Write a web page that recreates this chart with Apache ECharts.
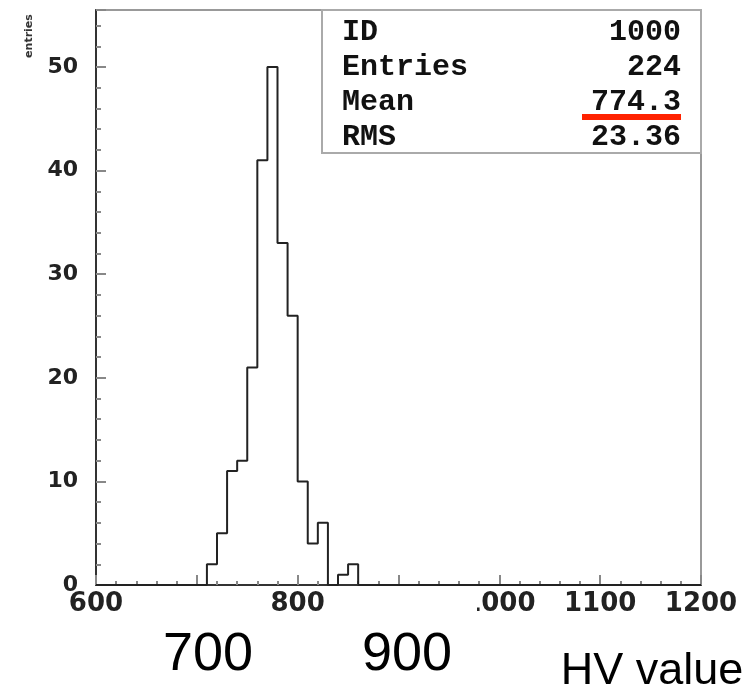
<!DOCTYPE html>
<html>
<head>
<meta charset="utf-8">
<script src="https://cdn.jsdelivr.net/npm/echarts@6/dist/echarts.min.js"></script>
<style>
	html, body { margin: 0; padding: 0; background: #fff; }
	#chart { width: 755px; height: 693px; }
</style>
</head>
<body>
<div id="chart"></div>
<script>
// Histogram bins (left edge, width 10) and their counts
var binLow = [700, 710, 720, 730, 740, 750, 760, 770, 780, 790, 800, 810, 820, 830, 840, 850];
var counts = [0, 2, 5, 11, 12, 21, 41, 50, 33, 26, 10, 4, 6, 0, 1, 2];
var binWidth = 10;

// Stats box
var statNames = ['ID', 'Entries', 'Mean', 'RMS'];
var statValues = ['1000', '224', '774.3', '23.36'];

// Hand-written labels pasted under the axis
var handLabels = ['700', '900'];
var handLabelX = [208, 407];
var xTitle = 'HV value';
var yTitle = 'entries';

var chart = echarts.init(document.getElementById('chart'));

// histogram outline, drawn along zero over the full range like ROOT does
var histData = [[600, 0]];
for (var i = 0; i < binLow.length; i++) {
	histData.push([binLow[i], counts[i]]);
}
histData.push([binLow[binLow.length - 1] + binWidth, 0]);
histData.push([1200, 0]);

var tickFont = 'DejaVu Sans';
var statFont = 'Liberation Mono';

var graphics = [];

// white patches covering the original 700 / 900 tick labels
graphics.push({ type: 'rect', z: 100, shape: { x: 140, y: 588, width: 130, height: 40 }, style: { fill: '#fff' } });
graphics.push({ type: 'rect', z: 100, shape: { x: 343, y: 588, width: 134, height: 40 }, style: { fill: '#fff' } });

// stats box
graphics.push({
	type: 'rect', z: 90,
	shape: { x: 322, y: 10, width: 379, height: 143 },
	style: { fill: '#fff', stroke: '#aaa', lineWidth: 2 }
});
statNames.forEach(function (name, k) {
	var y = 32 + k * 35.3;
	graphics.push({
		type: 'text', z: 91, x: 342, y: y,
		style: { text: name, font: 'bold 30px "' + statFont + '"', fill: '#111', textVerticalAlign: 'middle', verticalAlign: 'middle' }
	});
	graphics.push({
		type: 'text', z: 91, x: 681, y: y,
		style: { text: statValues[k], font: 'bold 30px "' + statFont + '"', fill: '#111', align: 'right', textAlign: 'right', verticalAlign: 'middle', textVerticalAlign: 'middle' }
	});
});
// red underline under the mean
graphics.push({ type: 'rect', z: 92, shape: { x: 582, y: 114, width: 99, height: 6 }, style: { fill: '#ff2200' } });

// rotated y title
graphics.push({
	type: 'text', z: 91, x: 29, y: 36, rotation: Math.PI / 2,
	style: { text: yTitle, font: 'bold 11px "' + tickFont + '"', fill: '#333', align: 'center', textAlign: 'center', verticalAlign: 'middle', textVerticalAlign: 'middle' }
});

// big pasted labels
handLabels.forEach(function (t, k) {
	graphics.push({
		type: 'text', z: 101, x: handLabelX[k], y: 655,
		style: { text: t, font: '54px "Liberation Sans"', fill: '#000', align: 'center', textAlign: 'center', verticalAlign: 'middle', textVerticalAlign: 'middle' }
	});
});
graphics.push({
	type: 'text', z: 101, x: 652, y: 672,
	style: { text: xTitle, font: '45px "Liberation Sans"', fill: '#000', align: 'center', textAlign: 'center', verticalAlign: 'middle', textVerticalAlign: 'middle' }
});

var option = {
	animation: false,
	backgroundColor: '#fff',
	grid: {
		left: 96, right: 54, top: 10, bottom: 108,
		show: true, borderColor: '#999', borderWidth: 2
	},
	xAxis: {
		type: 'value',
		min: 600, max: 1200, interval: 100,
		axisLine: { lineStyle: { color: '#333', width: 2 } },
		axisTick: { inside: true, length: 10, lineStyle: { color: '#888', width: 2 } },
		minorTick: { show: true, splitNumber: 5, length: 4, lineStyle: { color: '#888', width: 2 } },
		splitLine: { show: false },
		axisLabel: {
			margin: 6, color: '#222', fontFamily: tickFont, fontWeight: 'bold', fontSize: 26,
			formatter: function (v) { return String(v); }
		}
	},
	yAxis: {
		type: 'value',
		min: 0, max: 55.5, interval: 10,
		axisLine: { show: true, lineStyle: { color: '#333', width: 2 } },
		axisTick: { inside: true, length: 10, lineStyle: { color: '#888', width: 2 } },
		minorTick: { show: true, splitNumber: 5, length: 5, lineStyle: { color: '#888', width: 2 } },
		splitLine: { show: false },
		axisLabel: {
			margin: 18, color: '#222', fontFamily: tickFont, fontWeight: 'bold', fontSize: 22,
			showMaxLabel: false,
			formatter: function (v) { return v % 10 === 0 ? String(v) : ''; }
		}
	},
	series: [{
		type: 'line',
		step: 'end',
		data: histData,
		symbol: 'none',
		lineStyle: { color: '#222', width: 2 },
		z: 5
	}],
	graphic: graphics
};

chart.setOption(option);
</script>
</body>
</html>
